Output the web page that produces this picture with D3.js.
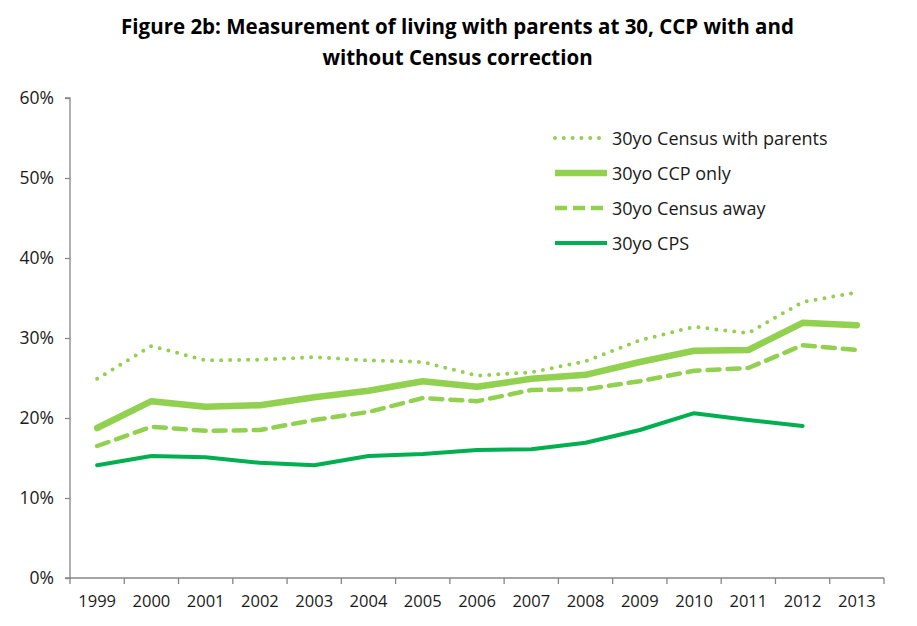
<!DOCTYPE html>
<html>
<head>
<meta charset="utf-8">
<script src="https://cdn.jsdelivr.net/npm/d3@7"></script>
<style>
  body { margin: 0; background: #fff; }
  svg { font-family: 'Open Sans', 'Noto Sans', sans-serif; }
</style>
</head>
<body>
<div class="chart"></div>
<script>
const years = ['1999', '2000', '2001', '2002', '2003', '2004', '2005', '2006', '2007', '2008', '2009', '2010', '2011', '2012', '2013']
const censusWithParents = [24.9, 29.0, 27.2, 27.3, 27.6, 27.2, 27.0, 25.3, 25.7, 27.1, 29.7, 31.4, 30.6, 34.5, 35.7]
const ccpOnly = [18.75, 22.1, 21.4, 21.6, 22.6, 23.4, 24.6, 23.9, 24.9, 25.4, 27.0, 28.4, 28.5, 31.9, 31.6]
const censusAway = [16.5, 18.9, 18.4, 18.5, 19.75, 20.75, 22.5, 22.1, 23.5, 23.6, 24.6, 25.9, 26.25, 29.1, 28.5]
const cps = [14.1, 15.25, 15.1, 14.4, 14.1, 15.25, 15.5, 16.0, 16.1, 16.9, 18.5, 20.6, 19.75, 19.0, null]
const yTicks = [0, 10, 20, 30, 40, 50, 60]
const titleLines = ['Figure 2b: Measurement of living with parents at 30, CCP with and', 'without Census correction']

const LIGHT = '#92d050'
const DARK = '#00b050'
const AXIS = '#868686'
const TEXT = '#1a1a1a'
const FONT = "'Open Sans', 'Noto Sans', sans-serif"

const series = [
  { name: '30yo Census with parents', values: censusWithParents, color: LIGHT, width: 4, dash: '0,9', cap: 'round' },
  { name: '30yo CCP only', values: ccpOnly, color: LIGHT, width: 6.5, dash: null, cap: 'round' },
  { name: '30yo Census away', values: censusAway, color: LIGHT, width: 4.5, dash: '12,8', cap: 'round' },
  { name: '30yo CPS', values: cps, color: DARK, width: 4, dash: null, cap: 'round' }
]

const W = 917
const H = 626
const margin = { top: 98, right: 33, bottom: 48, left: 70 }
const width = W - margin.left - margin.right
const height = H - margin.top - margin.bottom

const svg = d3.select('.chart').append('svg')
  .attr('width', W)
  .attr('height', H)

// title
svg.append('g').selectAll('text')
  .data(titleLines)
  .join('text')
  .attr('x', W / 2 - 1)
  .attr('y', (d, i) => 34 + i * 31)
  .attr('text-anchor', 'middle')
  .attr('font-weight', 'bold')
  .attr('font-size', 20.5)
  .attr('fill', '#000')
  .text(d => d)

const chart = svg.append('g')
  .attr('transform', `translate(${margin.left},${margin.top})`)

const x = d3.scaleBand()
  .domain(years)
  .range([0, width])
const y = d3.scaleLinear()
  .domain([0, 60])
  .range([height, 0])

// y axis
const yAxis = chart.append('g')
  .call(d3.axisLeft(y).tickValues(yTicks).tickSize(5).tickPadding(11).tickFormat(d => d + '%'))
  .attr('font-family', FONT)
yAxis.selectAll('line, path').attr('stroke', AXIS).attr('stroke-width', 1.3)
yAxis.select('path').attr('d', `M-5,${height}H0V0H-5`)
yAxis.selectAll('text').attr('font-size', 17.5).attr('fill', TEXT)

// x axis
const xAxis = chart.append('g')
  .attr('transform', `translate(0,${height})`)
  .call(d3.axisBottom(x).tickSize(0).tickPadding(17))
  .attr('font-family', FONT)
xAxis.select('path').attr('stroke', AXIS).attr('stroke-width', 1.3).attr('d', `M0,0H${width}`)
xAxis.selectAll('text').attr('font-size', 16.5).attr('fill', TEXT)
// category boundary ticks
chart.append('g')
  .selectAll('line')
  .data(years.concat(['end']))
  .join('line')
  .attr('x1', (d, i) => i * x.step())
  .attr('x2', (d, i) => i * x.step())
  .attr('y1', height)
  .attr('y2', height + 6)
  .attr('stroke', AXIS)
  .attr('stroke-width', 1.3)

const line = d3.line()
  .defined(d => d.v != null)
  .x(d => x(d.year) + x.bandwidth() / 2)
  .y(d => y(d.v))

series.forEach(s => {
  chart.append('path')
    .datum(s.values.map((v, i) => ({ year: years[i], v })))
    .attr('fill', 'none')
    .attr('stroke', s.color)
    .attr('stroke-width', s.width)
    .attr('stroke-linecap', s.cap)
    .attr('stroke-linejoin', 'round')
    .attr('stroke-dasharray', s.dash)
    .attr('d', line)
})

// legend
const legend = svg.append('g')
  .attr('transform', 'translate(553,138)')
const rows = legend.selectAll('g')
  .data(series)
  .join('g')
  .attr('transform', (d, i) => `translate(0,${i * 35})`)
rows.append('line')
  .attr('x1', 2)
  .attr('x2', 54)
  .attr('stroke', d => d.color)
  .attr('stroke-width', d => d.width)
  .attr('stroke-linecap', d => d.dash === '0,9' ? 'round' : 'butt')
  .attr('stroke-dasharray', d => d.dash === '0,9' ? '0,8.8' : (d.dash ? '12,6' : null))
rows.append('text')
  .attr('x', 59)
  .attr('y', 6.5)
  .attr('font-size', 18)
  .attr('fill', TEXT)
  .text(d => d.name)
</script>
</body>
</html>
